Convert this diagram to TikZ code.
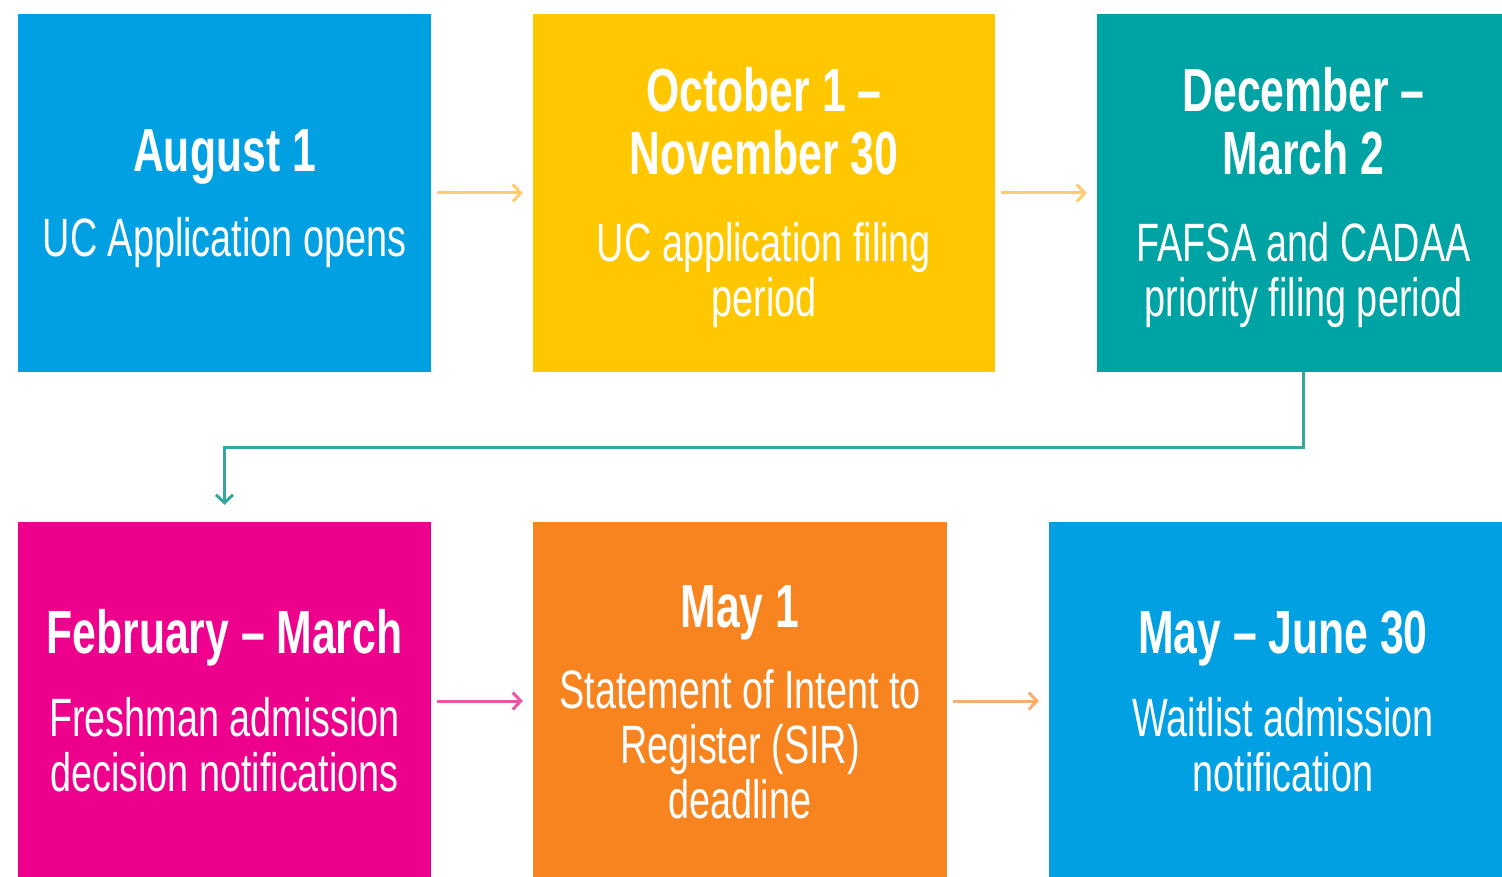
\documentclass[tikz,border=0pt]{standalone}
\usepackage{fontspec}
\setmainfont{Liberation Sans}[FakeStretch=0.7]
\usetikzlibrary{positioning}
\usetikzlibrary{arrows.meta}

\definecolor{ucblue}{HTML}{00A0E3}
\definecolor{ucgold}{HTML}{FFC700}
\definecolor{ucteal}{HTML}{00A3A3}
\definecolor{ucpink}{HTML}{EC008C}
\definecolor{ucorange}{HTML}{F7841E}
\definecolor{goldline}{HTML}{FFCC70}
\definecolor{pinkline}{HTML}{E957A3}
\definecolor{orangeline}{HTML}{F7AE70}
\definecolor{tealline}{HTML}{36A6A0}

\newcommand\datefont{\fontsize{61}{63}\selectfont\bfseries}
\newcommand\notefont{\fontsize{54}{55}\selectfont}
% struts so that every box is centred on its font lines
\newcommand\toprule{\rule{0pt}{55pt}}
\newcommand\botrule{\rule[-12pt]{0pt}{0pt}}

\begin{document}
\begin{tikzpicture}[x=1pt,y=-1pt,
% Box style
    card/.style={rectangle,inner sep=0pt,minimum height=358pt,text=white,
		align=flush center,font=\notefont},
% Connector styles
    flow/.style={line width=3pt,-{Straight Barb[length=8pt,width=17pt]},
		shorten <=6pt,shorten >=10pt},
    elbow/.style={flow,tealline,shorten <=0pt,shorten >=17pt},
    ]
  \useasboundingbox (0,0) rectangle (1502,877);
  \clip (0,0) rectangle (1502,877);

% Top row
  \node (aug) [card,fill=ucblue,minimum width=413pt,text width=403pt] at (224.5,193)
    {{\datefont\toprule August 1\\[30pt]}UC Application opens\botrule};
  \node (oct) [card,fill=ucgold,minimum width=462pt,text width=452pt] at (764,193)
    {{\datefont\toprule October 1 –\\November 30\\[32pt]}UC application filing\\period\botrule};
  \node (dec) [card,fill=ucteal,minimum width=413pt,text width=403pt] at (1303.5,193)
    {{\datefont\toprule December –\\March 2\\[32pt]}FAFSA and CADAA\\priority filing period\botrule};

% Bottom row
  \node (feb) [card,fill=ucpink,minimum width=413pt,text width=403pt] at (224.5,701)
    {{\datefont\toprule February – March\\[28pt]}Freshman admission\\decision notifications\botrule};
  \node (may) [card,fill=ucorange,minimum width=414pt,text width=404pt] at (740,701)
    {{\datefont\toprule May 1\\[26pt]}Statement of Intent to\\Register (SIR)\\deadline\botrule};
  \node (wait) [card,fill=ucblue,minimum width=468pt,text width=458pt] at (1283,701)
    {{\datefont\toprule May – June 30\\[28pt]}Waitlist admission\\notification\botrule};

% Connectors
  \draw [flow,goldline] (aug) -- (oct);
  \draw [flow,goldline] (oct) -- (dec);
  \draw [elbow] (dec.south) -- ++(0,75) -| (feb.north);
  \draw [flow,pinkline] (feb) -- (may);
  \draw [flow,orangeline] (may) -- (wait);

\end{tikzpicture}
\end{document}
